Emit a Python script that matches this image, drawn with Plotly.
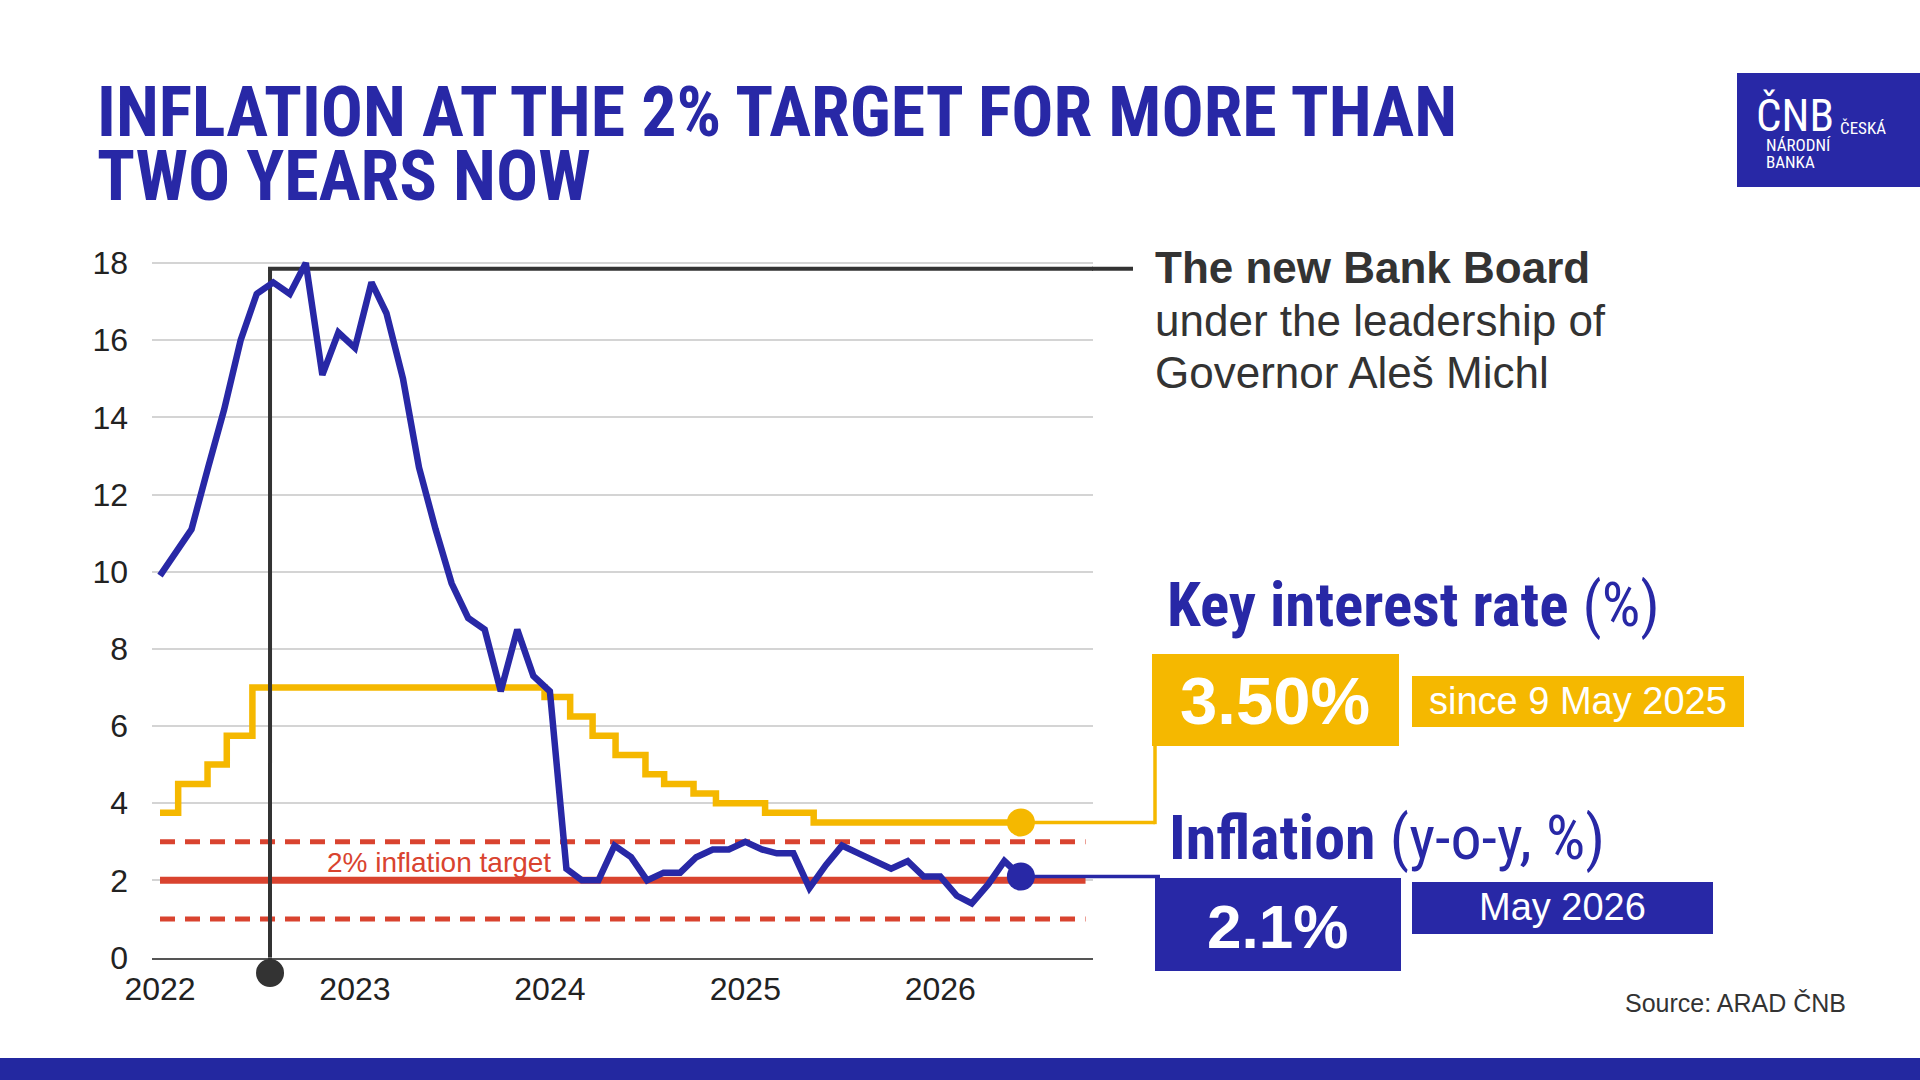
import plotly.graph_objects as go
import pandas as pd

# ---------------- data ----------------
inflation_values = [
    9.9, 11.1, 12.7, 14.2, 16.0, 17.2, 17.5, 17.2, 18.0, 15.1, 16.2, 15.8,   # 2022
    17.5, 16.7, 15.0, 12.7, 11.1, 9.7, 8.8, 8.5, 6.9, 8.5, 7.3, 6.9,         # 2023
    2.3, 2.0, 2.0, 2.9, 2.6, 2.0, 2.2, 2.2, 2.6, 2.8, 2.8, 3.0,              # 2024
    2.8, 2.7, 2.7, 1.8, 2.4, 2.9, 2.7, 2.5, 2.3, 2.5, 2.1, 2.1,              # 2025
    1.6, 1.4, 1.9, 2.5, 2.1,                                                 # 2026
]
# monthly values plotted at month end (first day of following month); series opens at the 2022 tick
inflation_dates = ["2022-01-01"] + [
    d.strftime("%Y-%m-%d")
    for d in pd.date_range("2022-03-01", periods=len(inflation_values) - 1, freq="MS")
]

rate_dates = ["2022-01-01", "2022-02-04", "2022-03-31", "2022-05-06", "2022-06-23",
              "2023-12-22", "2024-02-08", "2024-03-21", "2024-05-03", "2024-06-28",
              "2024-08-02", "2024-09-26", "2024-11-07", "2025-02-07", "2025-05-09",
              "2026-06-01"]
rate_values = [3.75, 4.50, 5.00, 5.75, 7.00, 6.75, 6.25, 5.75, 5.25, 4.75,
               4.50, 4.25, 4.00, 3.75, 3.50, 3.50]

target_levels = [1, 2, 3]
target_span = ["2022-01-01", "2026-09-30"]
michl_date = "2022-07-26"
michl_level = 17.85

x_tick_vals = ["2022-01-01", "2023-01-01", "2024-01-01", "2025-01-01", "2026-01-01"]
x_tick_text = ["2022", "2023", "2024", "2025", "2026"]
y_tick_vals = [0, 2, 4, 6, 8, 10, 12, 14, 16, 18]

# ---------------- style ----------------
BLUE = "#2828A6"
YELLOW = "#F5B800"
RED = "#D9432F"
DARK = "#333333"
GRID = "#D4D4D4"
ARIAL = "Liberation Sans, Arial, Helvetica, sans-serif"
NARROW = "Noto Sans Condensed, Roboto Condensed, Liberation Sans Narrow, Roboto, sans-serif"

W, H = 1920, 1080
X0_PX, X1_PX = 152, 1093
Y0_PX, Y1_PX = 957.5, 251.5
XR = ["2021-12-17", "2026-10-14"]
YR = [0, 18.3]


def xpx(d):
    t0, t1 = pd.Timestamp(XR[0]), pd.Timestamp(XR[1])
    return X0_PX + (pd.Timestamp(d) - t0) / (t1 - t0) * (X1_PX - X0_PX)


def ypx(v):
    return Y0_PX - (v - YR[0]) / (YR[1] - YR[0]) * (Y0_PX - Y1_PX)


def px(x):
    return x / W


def py(y):
    return 1 - y / H


fig = go.Figure()

# inflation target band
for lvl in target_levels:
    fig.add_trace(go.Scatter(
        x=target_span, y=[lvl, lvl], mode="lines", hoverinfo="skip",
        line=dict(color=RED, width=7 if lvl == 2 else 5, dash="solid" if lvl == 2 else "15px,10px"),
    ))

# key interest rate
fig.add_trace(go.Scatter(x=rate_dates, y=rate_values, mode="lines", line_shape="hv",
                         line=dict(color=YELLOW, width=6.5)))

# Michl leader (inside plot part)
fig.add_trace(go.Scatter(x=[michl_date, michl_date, XR[1]], y=[0, michl_level, michl_level],
                         mode="lines", line=dict(color=DARK, width=4), hoverinfo="skip"))

# inflation
fig.add_trace(go.Scatter(x=inflation_dates, y=inflation_values, mode="lines",
                         line=dict(color=BLUE, width=6.5)))

# end markers
fig.add_trace(go.Scatter(x=[rate_dates[-1]], y=[rate_values[-1]], mode="markers",
                         marker=dict(color=YELLOW, size=28), cliponaxis=False))
fig.add_trace(go.Scatter(x=[inflation_dates[-1]], y=[inflation_values[-1]], mode="markers",
                         marker=dict(color=BLUE, size=28), cliponaxis=False))

# small detached tick marks under the axis
fig.add_trace(go.Scatter(x=x_tick_vals, y=[-0.37] * len(x_tick_vals), mode="markers",
                         marker=dict(symbol="line-ns", size=5, line=dict(color="#555555", width=1.5)),
                         cliponaxis=False, hoverinfo="skip"))

shapes = []
# Michl leader parts outside the plot area
mx = xpx(michl_date)
shapes.append(dict(type="line", xref="paper", yref="paper",
                   x0=px(mx), x1=px(mx), y0=py(Y0_PX), y1=py(973),
                   line=dict(color=DARK, width=4)))
shapes.append(dict(type="circle", xref="paper", yref="paper",
                   x0=px(mx - 14), x1=px(mx + 14), y0=py(973 - 14), y1=py(973 + 14),
                   fillcolor=DARK, line=dict(width=0)))
shapes.append(dict(type="line", xref="paper", yref="paper",
                   x0=px(X1_PX - 1), x1=px(1133), y0=py(ypx(michl_level)), y1=py(ypx(michl_level)),
                   line=dict(color=DARK, width=4)))

# connectors
ex = xpx(rate_dates[-1])
yr_px = ypx(rate_values[-1])
shapes.append(dict(type="line", xref="paper", yref="paper",
                   x0=px(ex), x1=px(1155), y0=py(yr_px), y1=py(yr_px),
                   line=dict(color=YELLOW, width=3.5)))
shapes.append(dict(type="line", xref="paper", yref="paper",
                   x0=px(1155), x1=px(1155), y0=py(yr_px + 1.7), y1=py(746),
                   line=dict(color=YELLOW, width=3.5)))
yi_px = ypx(inflation_values[-1])
shapes.append(dict(type="line", xref="paper", yref="paper",
                   x0=px(xpx(inflation_dates[-1])), x1=px(1160), y0=py(yi_px), y1=py(yi_px),
                   line=dict(color=BLUE, width=3.5)))


def rect(x0, y0, x1, y1, color):
    return dict(type="rect", xref="paper", yref="paper", x0=px(x0), x1=px(x1),
                y0=py(y1), y1=py(y0), fillcolor=color, line=dict(width=0), layer="above")


shapes.append(rect(1152, 654, 1399, 746, YELLOW))
shapes.append(rect(1412, 676, 1744, 727, YELLOW))
shapes.append(rect(1155, 878, 1401, 971, BLUE))
shapes.append(rect(1412, 882, 1713, 934, BLUE))
# logo
shapes.append(rect(1737, 73, 1920, 187, BLUE))
# bottom band
shapes.append(rect(0, 1058, 1920, 1080, "#2328A0"))

annotations = []


def ann(text, x, y, size, color, family=ARIAL, xanchor="left"):
    annotations.append(dict(text=text, x=px(x), y=py(y), xref="paper", yref="paper",
                            xanchor=xanchor, yanchor="middle", showarrow=False,
                            font=dict(family=family, size=size, color=color)))


# title
ann("<b>INFLATION AT THE 2% TARGET FOR MORE THAN</b>", 95, 112, 70, BLUE, NARROW)
ann("<b>TWO YEARS NOW</b>", 95, 176, 70, BLUE, NARROW)

# logo text
ann("ČNB", 1754, 116, 45, "white", NARROW)
ann("ČESKÁ", 1838, 128, 17, "white", NARROW)
ann("NÁRODNÍ", 1764, 145, 17, "white", NARROW)
ann("BANKA", 1764, 162, 17, "white", NARROW)

# board text
ann("<b>The new Bank Board</b>", 1153, 268, 44, DARK)
ann("under the leadership of", 1153, 320, 44, DARK)
ann("Governor Aleš Michl", 1153, 372, 44, DARK)

# key rate block
ann("<b>Key interest rate</b> (%)", 1165, 605, 61, BLUE, NARROW)
ann("<b>3.50%</b>", 1275, 700, 67, "white", xanchor="center")
ann("since 9 May 2025", 1578, 701, 38, "white", xanchor="center")

# inflation block
ann("<b>Inflation</b> (y-o-y, %)", 1167, 837, 62, BLUE, NARROW)
ann("<b>2.1%</b>", 1277, 926, 62, "white", xanchor="center")
ann("May 2026", 1562, 907, 38, "white", xanchor="center")

# target label
ann("2% inflation target", 439, 862, 28, RED, xanchor="center")

# source
annotations.append(dict(text="Source: ARAD ČNB", x=px(1848), y=py(1003), xref="paper", yref="paper",
                        xanchor="right", yanchor="middle", showarrow=False,
                        font=dict(family=ARIAL, size=25, color=DARK)))

fig.update_layout(
    template="none",
    width=W, height=H,
    margin=dict(l=0, r=0, t=0, b=0, pad=0),
    paper_bgcolor="white",
    plot_bgcolor="rgba(0,0,0,0)",
    showlegend=False,
    shapes=shapes,
    annotations=annotations,
    xaxis=dict(
        type="date", domain=[px(X0_PX), px(X1_PX)], range=XR,
        tickvals=x_tick_vals, ticktext=x_tick_text,
        ticks="", showline=True, linecolor="#555555", linewidth=2,
        showgrid=False, zeroline=False, automargin=False,
        tickfont=dict(family=ARIAL, size=32, color="#222222"),
        ticklabelstandoff=2,
    ),
    yaxis=dict(
        domain=[py(Y0_PX), py(Y1_PX)], range=YR,
        tickvals=y_tick_vals, ticks="", showgrid=True, gridcolor=GRID, gridwidth=2,
        zeroline=False, showline=False, automargin=False,
        tickfont=dict(family=ARIAL, size=32, color="#222222"),
        ticklabelstandoff=23,
    ),
)

fig.write_html("out.html")
